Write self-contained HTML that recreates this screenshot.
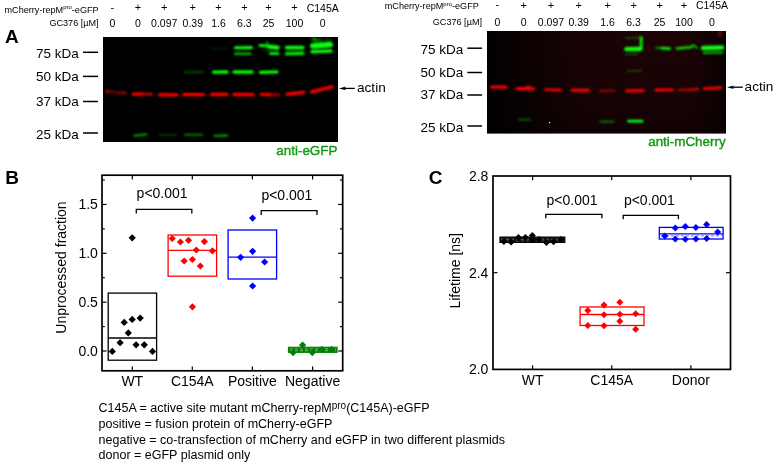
<!DOCTYPE html>
<html><head><meta charset="utf-8"><title>Figure</title>
<style>html,body{margin:0;padding:0;background:#fff;overflow:hidden}svg{display:block;will-change:transform}text{font-family:"Liberation Sans",sans-serif}</style>
</head><body>
<svg width="775" height="464" viewBox="0 0 775 464" font-family="Liberation Sans, sans-serif">
<rect width="775" height="464" fill="#fff"/>
<text x="98.6" y="12.5" font-size="9.1" text-anchor="end">mCherry-repM<tspan font-size="6" dy="-3.4">pro</tspan><tspan dy="3.4">-eGFP</tspan></text>
<text x="98.6" y="26.3" font-size="9.1" text-anchor="end">GC376 [µM]</text>
<text x="112.4" y="10.8" font-size="11" text-anchor="middle" font-weight="normal" fill="#000" >-</text>
<text x="112.4" y="26.9" font-size="10.5" text-anchor="middle" font-weight="normal" fill="#000" >0</text>
<text x="138" y="11.4" font-size="11" text-anchor="middle" font-weight="normal" fill="#000" >+</text>
<text x="138" y="26.9" font-size="10.5" text-anchor="middle" font-weight="normal" fill="#000" >0</text>
<text x="164.2" y="11.4" font-size="11" text-anchor="middle" font-weight="normal" fill="#000" >+</text>
<text x="164.2" y="26.9" font-size="10.5" text-anchor="middle" font-weight="normal" fill="#000" >0.097</text>
<text x="192.8" y="11.4" font-size="11" text-anchor="middle" font-weight="normal" fill="#000" >+</text>
<text x="192.8" y="26.9" font-size="10.5" text-anchor="middle" font-weight="normal" fill="#000" >0.39</text>
<text x="218.5" y="11.4" font-size="11" text-anchor="middle" font-weight="normal" fill="#000" >+</text>
<text x="218.5" y="26.9" font-size="10.5" text-anchor="middle" font-weight="normal" fill="#000" >1.6</text>
<text x="244.4" y="11.4" font-size="11" text-anchor="middle" font-weight="normal" fill="#000" >+</text>
<text x="244.4" y="26.9" font-size="10.5" text-anchor="middle" font-weight="normal" fill="#000" >6.3</text>
<text x="268.5" y="11.4" font-size="11" text-anchor="middle" font-weight="normal" fill="#000" >+</text>
<text x="268.5" y="26.9" font-size="10.5" text-anchor="middle" font-weight="normal" fill="#000" >25</text>
<text x="294.5" y="11.4" font-size="11" text-anchor="middle" font-weight="normal" fill="#000" >+</text>
<text x="294.5" y="26.9" font-size="10.5" text-anchor="middle" font-weight="normal" fill="#000" >100</text>
<text x="322.7" y="11.700000000000001" font-size="10.5" text-anchor="middle" font-weight="normal" fill="#000" >C145A</text>
<text x="322.7" y="26.9" font-size="10.5" text-anchor="middle" font-weight="normal" fill="#000" >0</text>
<text x="478.8" y="9.3" font-size="9.1" text-anchor="end">mCherry-repM<tspan font-size="6" dy="-3.4">pro</tspan><tspan dy="3.4">-eGFP</tspan></text>
<text x="482.0" y="25.0" font-size="9.1" text-anchor="end">GC376 [µM]</text>
<text x="497.4" y="8.1" font-size="11" text-anchor="middle" font-weight="normal" fill="#000" >-</text>
<text x="497.4" y="25.6" font-size="10.5" text-anchor="middle" font-weight="normal" fill="#000" >0</text>
<text x="523.6" y="8.7" font-size="11" text-anchor="middle" font-weight="normal" fill="#000" >+</text>
<text x="523.6" y="25.6" font-size="10.5" text-anchor="middle" font-weight="normal" fill="#000" >0</text>
<text x="551" y="8.7" font-size="11" text-anchor="middle" font-weight="normal" fill="#000" >+</text>
<text x="551" y="25.6" font-size="10.5" text-anchor="middle" font-weight="normal" fill="#000" >0.097</text>
<text x="578.6" y="8.7" font-size="11" text-anchor="middle" font-weight="normal" fill="#000" >+</text>
<text x="578.6" y="25.6" font-size="10.5" text-anchor="middle" font-weight="normal" fill="#000" >0.39</text>
<text x="607.6" y="8.7" font-size="11" text-anchor="middle" font-weight="normal" fill="#000" >+</text>
<text x="607.6" y="25.6" font-size="10.5" text-anchor="middle" font-weight="normal" fill="#000" >1.6</text>
<text x="633.6" y="8.7" font-size="11" text-anchor="middle" font-weight="normal" fill="#000" >+</text>
<text x="633.6" y="25.6" font-size="10.5" text-anchor="middle" font-weight="normal" fill="#000" >6.3</text>
<text x="659.6" y="8.7" font-size="11" text-anchor="middle" font-weight="normal" fill="#000" >+</text>
<text x="659.6" y="25.6" font-size="10.5" text-anchor="middle" font-weight="normal" fill="#000" >25</text>
<text x="684" y="8.7" font-size="11" text-anchor="middle" font-weight="normal" fill="#000" >+</text>
<text x="684" y="25.6" font-size="10.5" text-anchor="middle" font-weight="normal" fill="#000" >100</text>
<text x="712" y="9.0" font-size="10.5" text-anchor="middle" font-weight="normal" fill="#000" >C145A</text>
<text x="712" y="25.6" font-size="10.5" text-anchor="middle" font-weight="normal" fill="#000" >0</text>
<text x="4.9" y="42.6" font-size="19" text-anchor="start" font-weight="bold" fill="#000" >A</text>
<text x="5.2" y="183.6" font-size="19" text-anchor="start" font-weight="bold" fill="#000" >B</text>
<text x="428.8" y="183.8" font-size="19" text-anchor="start" font-weight="bold" fill="#000" >C</text>
<text x="78.8" y="57.699999999999996" font-size="13.5" text-anchor="end" font-weight="normal" fill="#000" >75 kDa</text>
<line x1="83" y1="52.3" x2="98" y2="52.3" stroke="#000" stroke-width="1.5"/>
<text x="78.8" y="81.2" font-size="13.5" text-anchor="end" font-weight="normal" fill="#000" >50 kDa</text>
<line x1="83" y1="76.4" x2="98" y2="76.4" stroke="#000" stroke-width="1.5"/>
<text x="78.8" y="105.89999999999999" font-size="13.5" text-anchor="end" font-weight="normal" fill="#000" >37 kDa</text>
<line x1="83" y1="101.5" x2="98" y2="101.5" stroke="#000" stroke-width="1.5"/>
<text x="78.8" y="138.70000000000002" font-size="13.5" text-anchor="end" font-weight="normal" fill="#000" >25 kDa</text>
<line x1="83" y1="133" x2="98" y2="133" stroke="#000" stroke-width="1.5"/>
<text x="463.2" y="53.8" font-size="13.5" text-anchor="end" font-weight="normal" fill="#000" >75 kDa</text>
<line x1="467.3" y1="48.2" x2="482.1" y2="48.2" stroke="#000" stroke-width="1.5"/>
<text x="463.2" y="77.3" font-size="13.5" text-anchor="end" font-weight="normal" fill="#000" >50 kDa</text>
<line x1="467.3" y1="72.5" x2="482.1" y2="72.5" stroke="#000" stroke-width="1.5"/>
<text x="463.2" y="98.5" font-size="13.5" text-anchor="end" font-weight="normal" fill="#000" >37 kDa</text>
<line x1="467.3" y1="95" x2="482.1" y2="95" stroke="#000" stroke-width="1.5"/>
<text x="463.2" y="131.8" font-size="13.5" text-anchor="end" font-weight="normal" fill="#000" >25 kDa</text>
<line x1="467.3" y1="126" x2="482.1" y2="126" stroke="#000" stroke-width="1.5"/>
<line x1="343" y1="88.4" x2="354.8" y2="88.4" stroke="#000" stroke-width="1.3"/>
<path d="M339 88.4 L346 86.60000000000001 L344.5 88.4 L346 90.2 Z" fill="#000"/>
<text x="357.0" y="92.2" font-size="13.6" text-anchor="start" font-weight="normal" fill="#000" >actin</text>
<line x1="731" y1="87.2" x2="742.8" y2="87.2" stroke="#000" stroke-width="1.3"/>
<path d="M727 87.2 L734 85.4 L732.5 87.2 L734 89.0 Z" fill="#000"/>
<text x="744.6" y="90.9" font-size="13.6" text-anchor="start" font-weight="normal" fill="#000" >actin</text>
<text x="337.4" y="154.5" font-size="13.4" text-anchor="end" font-weight="normal" fill="#129a12" stroke="#129a12" stroke-width="0.4">anti-eGFP</text>
<text x="725.6" y="145.8" font-size="13.4" text-anchor="end" font-weight="normal" fill="#129a12" stroke="#129a12" stroke-width="0.4">anti-mCherry</text>
<defs>
<filter id="bl" x="-10%" y="-50%" width="120%" height="200%"><feGaussianBlur stdDeviation="0.8"/></filter>
<clipPath id="cl"><rect x="103" y="37" width="235" height="105"/></clipPath>
<clipPath id="cr"><rect x="487" y="31" width="239" height="102.5"/></clipPath>
<linearGradient id="rg" x1="0" y1="0" x2="1" y2="0">
<stop offset="0" stop-color="#040000"/><stop offset="0.15" stop-color="#0a0101"/><stop offset="0.4" stop-color="#1a0305"/><stop offset="0.85" stop-color="#1c0305"/><stop offset="1" stop-color="#0a0102"/></linearGradient>
<linearGradient id="rv" x1="0" y1="0" x2="0" y2="1"><stop offset="0" stop-color="#000" stop-opacity="0"/><stop offset="0.5" stop-color="#000" stop-opacity="0.05"/><stop offset="1" stop-color="#000" stop-opacity="0.35"/></linearGradient>
</defs>
<rect x="103" y="37" width="235" height="105" fill="#000"/>
<g clip-path="url(#cl)" filter="url(#bl)">
<path d="M211.42 48.5L227.58 48.5" stroke="#08ff08" stroke-width="1.7" stroke-opacity="0.15" stroke-linecap="round" fill="none"/>
<path d="M235.41 47.8L251.59 47.6" stroke="#08ff08" stroke-width="3.1" stroke-opacity="1.0" stroke-linecap="round" fill="none"/>
<path d="M235.2 53.8L250.3 53.8" stroke="#08ff08" stroke-width="2.5" stroke-opacity="0.75" stroke-linecap="round" fill="none"/>
<path d="M259.84 45.5L266.16 45.8" stroke="#08ff08" stroke-width="2.9" stroke-opacity="0.95" stroke-linecap="round" fill="none"/>
<path d="M268.76 46.6L277.74 47.6" stroke="#08ff08" stroke-width="4.1" stroke-opacity="1.0" stroke-linecap="round" fill="none"/>
<path d="M267.2 42.2L267.2 45" stroke="#08ff08" stroke-width="2.7" stroke-opacity="0.45" stroke-linecap="round" fill="none"/>
<path d="M270.41 53.5L278.09 53.5" stroke="#08ff08" stroke-width="3.1" stroke-opacity="0.9" stroke-linecap="round" fill="none"/>
<path d="M262.875 50L277.125 50" stroke="#08ff08" stroke-width="3.0" stroke-opacity="0.15" stroke-linecap="round" fill="none"/>
<path d="M286.55 47.6L302.95 47.5" stroke="#08ff08" stroke-width="3.5" stroke-opacity="1.0" stroke-linecap="round" fill="none"/>
<path d="M286.41 53.9L303.09 53.4" stroke="#08ff08" stroke-width="3.1" stroke-opacity="0.9" stroke-linecap="round" fill="none"/>
<path d="M286.55 50.7L302.95 50.7" stroke="#08ff08" stroke-width="3.5" stroke-opacity="0.2" stroke-linecap="round" fill="none"/>
<path d="M312.75 46.0L330.25 44.6" stroke="#08ff08" stroke-width="5.5" stroke-opacity="1.0" stroke-linecap="round" fill="none"/>
<path d="M312.05 51.7L330.95 51.1" stroke="#08ff08" stroke-width="3.5" stroke-opacity="1.0" stroke-linecap="round" fill="none"/>
<path d="M312.9 39.6L320.6 40.5" stroke="#08ff08" stroke-width="4.5" stroke-opacity="0.3" stroke-linecap="round" fill="none"/>
<path d="M314 38L316 41" stroke="#08ff08" stroke-width="2.5" stroke-opacity="0.3" stroke-linecap="round" fill="none"/>
<path d="M325.05 39.5L329.95 40.5" stroke="#08ff08" stroke-width="3.5" stroke-opacity="0.2" stroke-linecap="round" fill="none"/>
<path d="M184.955 72.2L202.545 72.2" stroke="#08ff08" stroke-width="1.8" stroke-opacity="0.35" stroke-linecap="round" fill="none"/>
<path d="M213.48 72.1L227.02 72.0" stroke="#08ff08" stroke-width="3.3" stroke-opacity="1.0" stroke-linecap="round" fill="none"/>
<path d="M234.05 72.1L251.95 72.1" stroke="#08ff08" stroke-width="3.5" stroke-opacity="1.0" stroke-linecap="round" fill="none"/>
<path d="M260.48 72.4L277.02 71.9" stroke="#08ff08" stroke-width="3.3" stroke-opacity="1.0" stroke-linecap="round" fill="none"/>
<path d="M134.43 135.6L146.37 134.4" stroke="#08ff08" stroke-width="2.3" stroke-opacity="0.6" stroke-linecap="round" fill="none"/>
<path d="M159.455 135L176.545 135" stroke="#08ff08" stroke-width="1.8" stroke-opacity="0.22" stroke-linecap="round" fill="none"/>
<path d="M185.06 134.7L202.44 134.7" stroke="#08ff08" stroke-width="2.1" stroke-opacity="0.5" stroke-linecap="round" fill="none"/>
<path d="M214.43 135.8L227.37 135.5" stroke="#08ff08" stroke-width="2.3" stroke-opacity="0.6" stroke-linecap="round" fill="none"/>
<path d="M107.7 91.7L125.8 93.1" stroke="#ff0000" stroke-width="2.3" stroke-opacity="0.45" stroke-linecap="round" fill="none"/>
<path d="M118.77 92.5L125.73 93.1" stroke="#ff0000" stroke-width="2.5" stroke-opacity="0.35" stroke-linecap="round" fill="none"/>
<path d="M106.6 91.5L108 91.5" stroke="#ff0000" stroke-width="2.6999999999999997" stroke-opacity="0.8" stroke-linecap="round" fill="none"/>
<path d="M133.25 94.1L141.95 94.1" stroke="#ff0000" stroke-width="3.3" stroke-opacity="1.0" stroke-linecap="round" fill="none"/>
<path d="M143.91 94.1L151.59 94.1" stroke="#ff0000" stroke-width="2.9" stroke-opacity="0.8" stroke-linecap="round" fill="none"/>
<path d="M159.55 94.9L176.95 94.9" stroke="#ff0000" stroke-width="3.3" stroke-opacity="1.0" stroke-linecap="round" fill="none"/>
<path d="M183.65 94.7L203.45 94.7" stroke="#ff0000" stroke-width="3.3" stroke-opacity="1.0" stroke-linecap="round" fill="none"/>
<path d="M211.55 94.5L226.95 94.3" stroke="#ff0000" stroke-width="3.3" stroke-opacity="1.0" stroke-linecap="round" fill="none"/>
<path d="M234.05 94.5L252.95 94.6" stroke="#ff0000" stroke-width="3.3" stroke-opacity="1.0" stroke-linecap="round" fill="none"/>
<path d="M261.05 94.4L269.95 94.6" stroke="#ff0000" stroke-width="3.3" stroke-opacity="0.95" stroke-linecap="round" fill="none"/>
<path d="M272.05 94.6L278.45 94.8" stroke="#ff0000" stroke-width="3.3" stroke-opacity="0.6" stroke-linecap="round" fill="none"/>
<path d="M287.05 94.2L303.75 92.3" stroke="#ff0000" stroke-width="3.3" stroke-opacity="1.0" stroke-linecap="round" fill="none"/>
<path d="M311.62 91.9L331.88 86.9" stroke="#ff0000" stroke-width="3.5" stroke-opacity="1.0" stroke-linecap="round" fill="none"/>
</g>
<rect x="487" y="31" width="239" height="102.5" fill="url(#rg)"/>
<rect x="487" y="31" width="239" height="102.5" fill="url(#rv)"/>
<g clip-path="url(#cr)">
<g filter="url(#bl)">
<path d="M626.33 49.2L640.17 49.0" stroke="#08ff08" stroke-width="4.3" stroke-opacity="1.0" stroke-linecap="round" fill="none"/>
<path d="M641.2 49L641.2 37.5" stroke="#08ff08" stroke-width="2.9" stroke-opacity="0.9" stroke-linecap="round" fill="none"/>
<path d="M625.92 38L640.58 37.5" stroke="#08ff08" stroke-width="1.7" stroke-opacity="0.35" stroke-linecap="round" fill="none"/>
<path d="M625.385 54.3L637.615 54.3" stroke="#08ff08" stroke-width="1.6" stroke-opacity="0.35" stroke-linecap="round" fill="none"/>
<path d="M627.385 70.7L641.615 70.7" stroke="#08ff08" stroke-width="1.6" stroke-opacity="0.3" stroke-linecap="round" fill="none"/>
<path d="M628.44 121.1L642.16 121.1" stroke="#08ff08" stroke-width="2.9" stroke-opacity="1.0" stroke-linecap="round" fill="none"/>
<path d="M600.42 121.6L613.58 121.6" stroke="#08ff08" stroke-width="1.7" stroke-opacity="0.5" stroke-linecap="round" fill="none"/>
<path d="M518.92 119.6L530.38 119.6" stroke="#08ff08" stroke-width="1.7" stroke-opacity="0.4" stroke-linecap="round" fill="none"/>
<path d="M656.06 47.8L660.44 48" stroke="#08ff08" stroke-width="2.1" stroke-opacity="0.55" stroke-linecap="round" fill="none"/>
<path d="M661.84 48.1L669.66 48.6" stroke="#08ff08" stroke-width="2.9" stroke-opacity="0.95" stroke-linecap="round" fill="none"/>
<path d="M676.7 48.5L690.3 47.3" stroke="#08ff08" stroke-width="2.5" stroke-opacity="0.85" stroke-linecap="round" fill="none"/>
<path d="M691.56 47.3L692.74 45.3" stroke="#08ff08" stroke-width="2.1" stroke-opacity="0.8" stroke-linecap="round" fill="none"/>
<path d="M693.8249999999999 45.3L696.6750000000001 48.0" stroke="#08ff08" stroke-width="2.0" stroke-opacity="0.7" stroke-linecap="round" fill="none"/>
<path d="M703.07 48.0L721.93 47.5" stroke="#08ff08" stroke-width="4.7" stroke-opacity="1.0" stroke-linecap="round" fill="none"/>
<path d="M703.595 52.8L722.405 52.6" stroke="#08ff08" stroke-width="2.2" stroke-opacity="0.7" stroke-linecap="round" fill="none"/>
<path d="M491.48 87.0L506.32 87.0" stroke="#ff0000" stroke-width="3.0999999999999996" stroke-opacity="1.0" stroke-linecap="round" fill="none"/>
<path d="M517.08 88.6L533.8199999999999 88.8" stroke="#ff0000" stroke-width="3.0999999999999996" stroke-opacity="1.0" stroke-linecap="round" fill="none"/>
<path d="M525.56 87.4L529.44 86.3" stroke="#ff0000" stroke-width="1.9000000000000001" stroke-opacity="0.9" stroke-linecap="round" fill="none"/>
<path d="M545.44 89.7L560.66 90.1" stroke="#ff0000" stroke-width="2.6999999999999997" stroke-opacity="0.95" stroke-linecap="round" fill="none"/>
<path d="M572.2099999999999 90.2L588.39 90.2" stroke="#ff0000" stroke-width="2.9" stroke-opacity="1.0" stroke-linecap="round" fill="none"/>
<path d="M600.13 90.9L614.37 90.6" stroke="#ff0000" stroke-width="2.1" stroke-opacity="0.55" stroke-linecap="round" fill="none"/>
<path d="M626.7099999999999 90.8L643.2900000000001 90.6" stroke="#ff0000" stroke-width="2.9" stroke-opacity="1.0" stroke-linecap="round" fill="none"/>
<path d="M656.2099999999999 90.0L672.39 89.9" stroke="#ff0000" stroke-width="2.9" stroke-opacity="1.0" stroke-linecap="round" fill="none"/>
<path d="M678.83 90.0L687.37 89.9" stroke="#ff0000" stroke-width="2.1" stroke-opacity="0.7" stroke-linecap="round" fill="none"/>
<path d="M688.7 89.9L698.0999999999999 89.0" stroke="#ff0000" stroke-width="2.3" stroke-opacity="0.85" stroke-linecap="round" fill="none"/>
<path d="M704.51 88.6L721.09 87.6" stroke="#ff0000" stroke-width="2.9" stroke-opacity="1.0" stroke-linecap="round" fill="none"/>
<circle cx="720" cy="34" r="3" fill="#ff2020" fill-opacity="0.25"/>
</g></g>
<rect x="549" y="122" width="1.2" height="1.2" fill="#e0ffe0"/>

<line x1="102.0" y1="351.0" x2="106.5" y2="351.0" stroke="#000" stroke-width="1.2"/>
<line x1="342.7" y1="351.0" x2="338.2" y2="351.0" stroke="#000" stroke-width="1.2"/>
<line x1="102.0" y1="326.575" x2="104.8" y2="326.575" stroke="#000" stroke-width="1.2"/>
<line x1="342.7" y1="326.575" x2="339.9" y2="326.575" stroke="#000" stroke-width="1.2"/>
<line x1="102.0" y1="302.15" x2="106.5" y2="302.15" stroke="#000" stroke-width="1.2"/>
<line x1="342.7" y1="302.15" x2="338.2" y2="302.15" stroke="#000" stroke-width="1.2"/>
<line x1="102.0" y1="277.725" x2="104.8" y2="277.725" stroke="#000" stroke-width="1.2"/>
<line x1="342.7" y1="277.725" x2="339.9" y2="277.725" stroke="#000" stroke-width="1.2"/>
<line x1="102.0" y1="253.3" x2="106.5" y2="253.3" stroke="#000" stroke-width="1.2"/>
<line x1="342.7" y1="253.3" x2="338.2" y2="253.3" stroke="#000" stroke-width="1.2"/>
<line x1="102.0" y1="228.875" x2="104.8" y2="228.875" stroke="#000" stroke-width="1.2"/>
<line x1="342.7" y1="228.875" x2="339.9" y2="228.875" stroke="#000" stroke-width="1.2"/>
<line x1="102.0" y1="204.45" x2="106.5" y2="204.45" stroke="#000" stroke-width="1.2"/>
<line x1="342.7" y1="204.45" x2="338.2" y2="204.45" stroke="#000" stroke-width="1.2"/>
<line x1="102.0" y1="180.025" x2="104.8" y2="180.025" stroke="#000" stroke-width="1.2"/>
<line x1="342.7" y1="180.025" x2="339.9" y2="180.025" stroke="#000" stroke-width="1.2"/>
<line x1="132.3" y1="370.8" x2="132.3" y2="366.6" stroke="#000" stroke-width="1.2"/>
<line x1="132.3" y1="175.2" x2="132.3" y2="179.39999999999998" stroke="#000" stroke-width="1.2"/>
<line x1="192.3" y1="370.8" x2="192.3" y2="366.6" stroke="#000" stroke-width="1.2"/>
<line x1="192.3" y1="175.2" x2="192.3" y2="179.39999999999998" stroke="#000" stroke-width="1.2"/>
<line x1="252.4" y1="370.8" x2="252.4" y2="366.6" stroke="#000" stroke-width="1.2"/>
<line x1="252.4" y1="175.2" x2="252.4" y2="179.39999999999998" stroke="#000" stroke-width="1.2"/>
<line x1="312.6" y1="370.8" x2="312.6" y2="366.6" stroke="#000" stroke-width="1.2"/>
<line x1="312.6" y1="175.2" x2="312.6" y2="179.39999999999998" stroke="#000" stroke-width="1.2"/>
<text x="97.9" y="356.0" font-size="14" text-anchor="end" font-weight="normal" fill="#000" >0.0</text>
<text x="97.9" y="307.15" font-size="14" text-anchor="end" font-weight="normal" fill="#000" >0.5</text>
<text x="97.9" y="258.3" font-size="14" text-anchor="end" font-weight="normal" fill="#000" >1.0</text>
<text x="97.9" y="209.45" font-size="14" text-anchor="end" font-weight="normal" fill="#000" >1.5</text>
<text x="132.3" y="385.7" font-size="14" text-anchor="middle" font-weight="normal" fill="#000" >WT</text>
<text x="192.3" y="385.7" font-size="14" text-anchor="middle" font-weight="normal" fill="#000" >C154A</text>
<text x="252.4" y="385.7" font-size="14" text-anchor="middle" font-weight="normal" fill="#000" >Positive</text>
<text x="312.6" y="385.7" font-size="14" text-anchor="middle" font-weight="normal" fill="#000" >Negative</text>
<text transform="translate(66.2 267.5) rotate(-90)" font-size="14" text-anchor="middle">Unprocessed fraction</text>
<rect x="108.2" y="293.1" width="48.39999999999999" height="67.09999999999997" fill="none" stroke="#000" stroke-width="1.3"/>
<line x1="108.2" y1="338" x2="156.6" y2="338" stroke="#000" stroke-width="1.3"/>
<rect x="168.1" y="235" width="48.5" height="41.19999999999999" fill="none" stroke="#f00" stroke-width="1.3"/>
<line x1="168.1" y1="250.4" x2="216.6" y2="250.4" stroke="#f00" stroke-width="1.3"/>
<rect x="228.1" y="230" width="48.50000000000003" height="49" fill="none" stroke="#00f" stroke-width="1.3"/>
<line x1="228.1" y1="257.1" x2="276.6" y2="257.1" stroke="#00f" stroke-width="1.3"/>
<rect x="288.4" y="347.2" width="48.7" height="5.2" fill="#008000" stroke="#008000" stroke-width="1.0"/>
<path d="M290 348.9H336M290 350.7H336" stroke="#9fcf9f" stroke-width="0.7" stroke-dasharray="3 2"/>
<path d="M108.70 351.40L112.30 347.80L115.90 351.40L112.30 355.00Z" fill="#000"/>
<path d="M116.50 342.70L120.10 339.10L123.70 342.70L120.10 346.30Z" fill="#000"/>
<path d="M120.60 322.40L124.20 318.80L127.80 322.40L124.20 326.00Z" fill="#000"/>
<path d="M124.70 332.90L128.30 329.30L131.90 332.90L128.30 336.50Z" fill="#000"/>
<path d="M128.60 319.40L132.20 315.80L135.80 319.40L132.20 323.00Z" fill="#000"/>
<path d="M136.60 318.10L140.20 314.50L143.80 318.10L140.20 321.70Z" fill="#000"/>
<path d="M132.50 344.80L136.10 341.20L139.70 344.80L136.10 348.40Z" fill="#000"/>
<path d="M140.70 344.80L144.30 341.20L147.90 344.80L144.30 348.40Z" fill="#000"/>
<path d="M148.90 351.40L152.50 347.80L156.10 351.40L152.50 355.00Z" fill="#000"/>
<path d="M128.60 237.80L132.20 234.20L135.80 237.80L132.20 241.40Z" fill="#000"/>
<path d="M168.60 238.50L172.20 234.90L175.80 238.50L172.20 242.10Z" fill="#f00"/>
<path d="M176.80 242.00L180.40 238.40L184.00 242.00L180.40 245.60Z" fill="#f00"/>
<path d="M184.90 240.30L188.50 236.70L192.10 240.30L188.50 243.90Z" fill="#f00"/>
<path d="M200.80 241.60L204.40 238.00L208.00 241.60L204.40 245.20Z" fill="#f00"/>
<path d="M192.70 250.00L196.30 246.40L199.90 250.00L196.30 253.60Z" fill="#f00"/>
<path d="M208.80 250.90L212.40 247.30L216.00 250.90L212.40 254.50Z" fill="#f00"/>
<path d="M180.60 261.00L184.20 257.40L187.80 261.00L184.20 264.60Z" fill="#f00"/>
<path d="M188.80 259.50L192.40 255.90L196.00 259.50L192.40 263.10Z" fill="#f00"/>
<path d="M196.70 266.00L200.30 262.40L203.90 266.00L200.30 269.60Z" fill="#f00"/>
<path d="M188.80 306.80L192.40 303.20L196.00 306.80L192.40 310.40Z" fill="#f00"/>
<path d="M249.00 218.10L252.60 214.50L256.20 218.10L252.60 221.70Z" fill="#00f"/>
<path d="M249.00 251.30L252.60 247.70L256.20 251.30L252.60 254.90Z" fill="#00f"/>
<path d="M237.00 257.30L240.60 253.70L244.20 257.30L240.60 260.90Z" fill="#00f"/>
<path d="M261.00 262.00L264.60 258.40L268.20 262.00L264.60 265.60Z" fill="#00f"/>
<path d="M249.00 286.00L252.60 282.40L256.20 286.00L252.60 289.60Z" fill="#00f"/>
<path d="M289.50 352.60L293.10 349.00L296.70 352.60L293.10 356.20Z" fill="#008000"/>
<path d="M299.00 345.10L302.60 341.50L306.20 345.10L302.60 348.70Z" fill="#008000"/>
<path d="M308.70 352.60L312.30 349.00L315.90 352.60L312.30 356.20Z" fill="#008000"/>
<path d="M318.40 349.40L322.00 345.80L325.60 349.40L322.00 353.00Z" fill="#008000"/>
<path d="M328.10 349.40L331.70 345.80L335.30 349.40L331.70 353.00Z" fill="#008000"/>
<path d="M136.3 213.4V209.4H191.8V213.4" fill="none" stroke="#000" stroke-width="1.3"/>
<path d="M261.2 215.0V210.6H317.0V215.0" fill="none" stroke="#000" stroke-width="1.3"/>
<text x="136.6" y="197.9" font-size="14" text-anchor="start" font-weight="normal" fill="#000" >p&lt;0.001</text>
<text x="261.4" y="200.1" font-size="14" text-anchor="start" font-weight="normal" fill="#000" >p&lt;0.001</text>
<rect x="102.0" y="175.2" width="240.7" height="195.60000000000002" fill="none" stroke="#000" stroke-width="1.7"/>
<line x1="493.0" y1="272.7" x2="497.5" y2="272.7" stroke="#000" stroke-width="1.2"/>
<line x1="730.5" y1="272.7" x2="726.0" y2="272.7" stroke="#000" stroke-width="1.2"/>
<line x1="532.6" y1="369.4" x2="532.6" y2="365.2" stroke="#000" stroke-width="1.2"/>
<line x1="532.6" y1="176.0" x2="532.6" y2="180.2" stroke="#000" stroke-width="1.2"/>
<line x1="611.75" y1="369.4" x2="611.75" y2="365.2" stroke="#000" stroke-width="1.2"/>
<line x1="611.75" y1="176.0" x2="611.75" y2="180.2" stroke="#000" stroke-width="1.2"/>
<line x1="690.9" y1="369.4" x2="690.9" y2="365.2" stroke="#000" stroke-width="1.2"/>
<line x1="690.9" y1="176.0" x2="690.9" y2="180.2" stroke="#000" stroke-width="1.2"/>
<text x="488.4" y="374.4" font-size="14" text-anchor="end" font-weight="normal" fill="#000" >2.0</text>
<text x="488.4" y="277.7" font-size="14" text-anchor="end" font-weight="normal" fill="#000" >2.4</text>
<text x="488.4" y="181.00000000000003" font-size="14" text-anchor="end" font-weight="normal" fill="#000" >2.8</text>
<text x="532.6" y="385.2" font-size="14" text-anchor="middle" font-weight="normal" fill="#000" >WT</text>
<text x="611.75" y="385.2" font-size="14" text-anchor="middle" font-weight="normal" fill="#000" >C145A</text>
<text x="690.9" y="385.2" font-size="14" text-anchor="middle" font-weight="normal" fill="#000" >Donor</text>
<text transform="translate(459.6 270.8) rotate(-90)" font-size="14" text-anchor="middle">Lifetime [ns]</text>
<rect x="500" y="237.1" width="64.8" height="5.3" fill="#111" stroke="#000" stroke-width="1.2"/>
<path d="M501 239.2H564" stroke="#888" stroke-width="0.8" stroke-dasharray="3 2"/>
<path d="M501 241H564" stroke="#555" stroke-width="0.8" stroke-dasharray="3 2"/>
<rect x="580.1" y="307" width="63.89999999999998" height="18.5" fill="none" stroke="#f00" stroke-width="1.3"/>
<line x1="580.1" y1="314.5" x2="644" y2="314.5" stroke="#f00" stroke-width="1.3"/>
<rect x="659.3" y="227.4" width="63.80000000000007" height="11.599999999999994" fill="none" stroke="#00f" stroke-width="1.3"/>
<line x1="659.3" y1="233.8" x2="723.1" y2="233.8" stroke="#00f" stroke-width="1.3"/>
<path d="M661 235.9H722" stroke="#00f" stroke-width="0.8" stroke-dasharray="3 2" stroke-opacity="0.7"/>
<path d="M500.40 241.50L503.90 238.00L507.40 241.50L503.90 245.00Z" fill="#000"/>
<path d="M507.70 242.10L511.20 238.60L514.70 242.10L511.20 245.60Z" fill="#000"/>
<path d="M514.90 237.60L518.40 234.10L521.90 237.60L518.40 241.10Z" fill="#000"/>
<path d="M521.90 237.60L525.40 234.10L528.90 237.60L525.40 241.10Z" fill="#000"/>
<path d="M528.80 235.60L532.30 232.10L535.80 235.60L532.30 239.10Z" fill="#000"/>
<path d="M528.80 239.80L532.30 236.30L535.80 239.80L532.30 243.30Z" fill="#000"/>
<path d="M535.70 239.60L539.20 236.10L542.70 239.60L539.20 243.10Z" fill="#000"/>
<path d="M543.00 242.50L546.50 239.00L550.00 242.50L546.50 246.00Z" fill="#000"/>
<path d="M550.00 241.70L553.50 238.20L557.00 241.70L553.50 245.20Z" fill="#000"/>
<path d="M557.40 239.60L560.90 236.10L564.40 239.60L560.90 243.10Z" fill="#000"/>
<path d="M584.30 310.50L587.80 307.00L591.30 310.50L587.80 314.00Z" fill="#f00"/>
<path d="M584.30 325.50L587.80 322.00L591.30 325.50L587.80 329.00Z" fill="#f00"/>
<path d="M600.50 305.00L604.00 301.50L607.50 305.00L604.00 308.50Z" fill="#f00"/>
<path d="M600.50 314.80L604.00 311.30L607.50 314.80L604.00 318.30Z" fill="#f00"/>
<path d="M600.50 325.80L604.00 322.30L607.50 325.80L604.00 329.30Z" fill="#f00"/>
<path d="M616.30 302.20L619.80 298.70L623.30 302.20L619.80 305.70Z" fill="#f00"/>
<path d="M616.30 314.20L619.80 310.70L623.30 314.20L619.80 317.70Z" fill="#f00"/>
<path d="M616.30 321.30L619.80 317.80L623.30 321.30L619.80 324.80Z" fill="#f00"/>
<path d="M632.20 313.80L635.70 310.30L639.20 313.80L635.70 317.30Z" fill="#f00"/>
<path d="M632.20 329.30L635.70 325.80L639.20 329.30L635.70 332.80Z" fill="#f00"/>
<path d="M661.30 236.00L664.80 232.50L668.30 236.00L664.80 239.50Z" fill="#00f"/>
<path d="M671.80 227.90L675.30 224.40L678.80 227.90L675.30 231.40Z" fill="#00f"/>
<path d="M671.80 239.00L675.30 235.50L678.80 239.00L675.30 242.50Z" fill="#00f"/>
<path d="M681.80 226.60L685.30 223.10L688.80 226.60L685.30 230.10Z" fill="#00f"/>
<path d="M681.80 239.30L685.30 235.80L688.80 239.30L685.30 242.80Z" fill="#00f"/>
<path d="M692.40 227.60L695.90 224.10L699.40 227.60L695.90 231.10Z" fill="#00f"/>
<path d="M692.40 239.00L695.90 235.50L699.40 239.00L695.90 242.50Z" fill="#00f"/>
<path d="M703.10 224.50L706.60 221.00L710.10 224.50L706.60 228.00Z" fill="#00f"/>
<path d="M703.10 238.50L706.60 235.00L710.10 238.50L706.60 242.00Z" fill="#00f"/>
<path d="M714.10 232.00L717.60 228.50L721.10 232.00L717.60 235.50Z" fill="#00f"/>
<path d="M545.8 218.3V214.4H601.9V218.3" fill="none" stroke="#000" stroke-width="1.3"/>
<path d="M623.2 219.3V215.4H678.4V219.3" fill="none" stroke="#000" stroke-width="1.3"/>
<text x="546.5" y="204.5" font-size="14" text-anchor="start" font-weight="normal" fill="#000" >p&lt;0.001</text>
<text x="623.9" y="205.1" font-size="14" text-anchor="start" font-weight="normal" fill="#000" >p&lt;0.001</text>
<rect x="493.0" y="176.0" width="237.5" height="193.39999999999998" fill="none" stroke="#000" stroke-width="1.7"/>
<text x="98.6" y="412.3" font-size="12.5">C145A = active site mutant mCherry-repM<tspan font-size="10" dy="-3.6">pro</tspan><tspan dy="3.6">(C145A)-eGFP</tspan></text>
<text x="98.6" y="428.0" font-size="12.5">positive = fusion protein of mCherry-eGFP</text>
<text x="98.6" y="443.7" font-size="12.5">negative = co-transfection of mCherry and eGFP in two different plasmids</text>
<text x="98.6" y="459.4" font-size="12.5">donor = eGFP plasmid only</text>
</svg>
</body></html>
